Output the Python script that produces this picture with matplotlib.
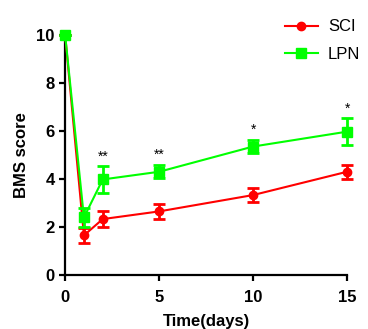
import matplotlib.pyplot as plt
from matplotlib.lines import Line2D

plt.rcParams['font.family'] = ['Liberation Sans', 'DejaVu Sans']

days = [0, 1, 2, 5, 10, 15]
sci_mean = [10, 1.65, 2.33, 2.65, 3.33, 4.3]
sci_err = [0, 0.3, 0.32, 0.3, 0.3, 0.3]
lpn_mean = [10, 2.4, 3.98, 4.3, 5.35, 5.97]
lpn_err = [0, 0.4, 0.55, 0.28, 0.28, 0.55]
stars = {2: "**", 5: "**", 10: "*", 15: "*"}

red = "#ff0000"
green = "#00ff00"

fig = plt.figure(figsize=(3.68, 3.29), dpi=100)
ax = fig.add_axes([0.177, 0.164, 0.766, 0.73])

ax.errorbar(days, sci_mean, yerr=sci_err, color=red, marker="o", ms=6,
            lw=1.5, elinewidth=2, capsize=4, capthick=2, clip_on=False, zorder=3)
ax.errorbar(days, lpn_mean, yerr=lpn_err, color=green, marker="s", ms=6.5,
            lw=1.5, elinewidth=2, capsize=4, capthick=2, clip_on=False, zorder=4)

# significance marks above the LPN error bars
for i, d in enumerate(days):
    if d in stars:
        ax.text(d, lpn_mean[i] + lpn_err[i] + 0.12, stars[d], ha="center", va="bottom",
                fontsize=10, color="black")

ax.set_xlim(0, 15)
ax.set_ylim(0, 10)
ax.set_xticks([0, 5, 10, 15])
ax.set_yticks([0, 2, 4, 6, 8, 10])
for s in ["top", "right"]:
    ax.spines[s].set_visible(False)
for s in ["left", "bottom"]:
    ax.spines[s].set_linewidth(1.6)
ax.tick_params(width=1.6, length=4, labelsize=12)
ax.tick_params(axis="x", pad=7)
for lab in ax.get_xticklabels() + ax.get_yticklabels():
    lab.set_fontweight("bold")

ax.set_xlabel("Time(days)", fontsize=12, fontweight="bold", labelpad=6)
ax.set_ylabel("BMS score", fontsize=12, fontweight="bold", labelpad=5)

handles = [Line2D([], [], color=red, marker="o", ms=6, lw=1.5),
           Line2D([], [], color=green, marker="s", ms=6.5, lw=1.5)]
ax.legend(handles, ["SCI", "LPN"], loc="upper left", bbox_to_anchor=(0.725, 1.127),
          frameon=False, fontsize=12, handlelength=2.0, labelspacing=0.75,
          handletextpad=0.6)

fig.savefig("out.png", dpi=100)
